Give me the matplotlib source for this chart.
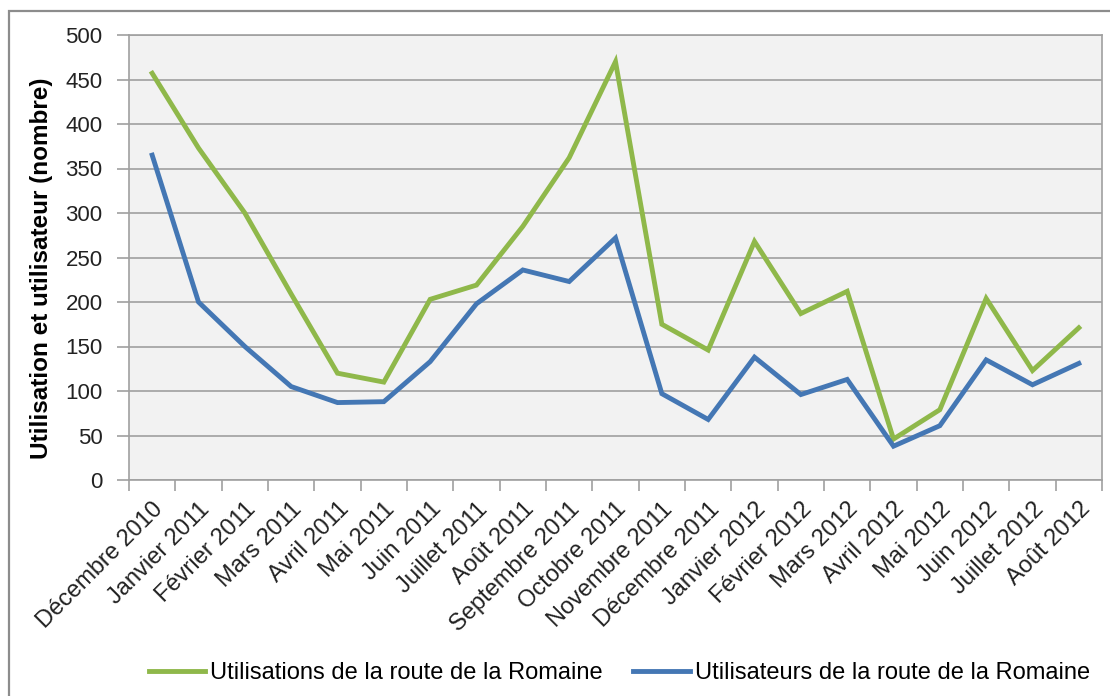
import matplotlib
matplotlib.use("Agg")
import matplotlib.pyplot as plt
from matplotlib.patches import Rectangle

months = ["Décembre 2010", "Janvier 2011", "Février 2011", "Mars 2011", "Avril 2011",
          "Mai 2011", "Juin 2011", "Juillet 2011", "Août 2011", "Septembre 2011",
          "Octobre 2011", "Novembre 2011", "Décembre 2011", "Janvier 2012",
          "Février 2012", "Mars 2012", "Avril 2012", "Mai 2012", "Juin 2012",
          "Juillet 2012", "Août 2012"]
utilisations = [457, 373, 300, 209, 120, 110, 203, 219, 285, 362, 470,
                175, 146, 268, 187, 212, 46, 79, 204, 123, 171]
utilisateurs = [365, 200, 150, 105, 87, 88, 133, 198, 236, 223, 272,
                97, 68, 138, 96, 113, 38, 61, 135, 107, 131]
yticks = [0, 50, 100, 150, 200, 250, 300, 350, 400, 450, 500]

W, H = 1110, 696
fig = plt.figure(figsize=(W / 100, H / 100), dpi=100)
plt.rcParams['font.family'] = ['Liberation Sans', 'DejaVu Sans']

# outer chart border
fig.patches.append(Rectangle((9 / W, -0.1), 1.2, 1 - 11 / H + 0.1,
                             transform=fig.transFigure, fill=False,
                             edgecolor='#8c8c8c', lw=1.6, zorder=0))

ax = fig.add_axes([129 / W, 1 - 480 / H, (1102 - 129) / W, (480 - 35) / H])
ax.set_facecolor('#f2f2f2')
x = list(range(len(months)))
ax.plot(x, utilisations, color='#8fb84a', lw=3.5, solid_joinstyle='miter',
        label='Utilisations de la route de la Romaine')
ax.plot(x, utilisateurs, color='#4477b4', lw=3.5, solid_joinstyle='miter',
        label='Utilisateurs de la route de la Romaine')

ax.set_xlim(-0.5, len(months) - 0.5)
ax.set_ylim(0, 500)
ax.set_yticks(yticks)
ax.set_yticklabels([str(v) for v in yticks], fontsize=16, color='#222222')
ax.yaxis.grid(True, color='#a0a0a0', lw=1.2)
ax.set_axisbelow(True)

# x ticks at category boundaries, labels at centers
ax.set_xticks([i - 0.5 for i in range(len(months) + 1)])
ax.set_xticklabels([])
ax.set_xticks(x, minor=True)
ax.set_xticklabels(months, minor=True, rotation=45, ha='right',
                   rotation_mode='anchor', fontsize=17, color='#222222')
ax.tick_params(axis='x', which='minor', length=0, pad=13)
ax.tick_params(axis='x', which='major', length=8, color='#a0a0a0', width=1.2)
ax.tick_params(axis='y', length=9, color='#a0a0a0', width=1.2, pad=10)

for s in ['left', 'bottom', 'top', 'right']:
    ax.spines[s].set_color('#a0a0a0')
    ax.spines[s].set_linewidth(1.2)

ax.set_ylabel('Utilisation et utilisateur (nombre)', fontsize=17.5,
              fontweight='bold')
ax.yaxis.set_label_coords(-0.078, 0.476)

fig.legend(loc='lower center', bbox_to_anchor=(0.558, -0.014), ncol=2,
           frameon=False, fontsize=17, handlelength=2.4, handletextpad=0.2,
           columnspacing=1.3)

fig.savefig('out.png', dpi=100)
